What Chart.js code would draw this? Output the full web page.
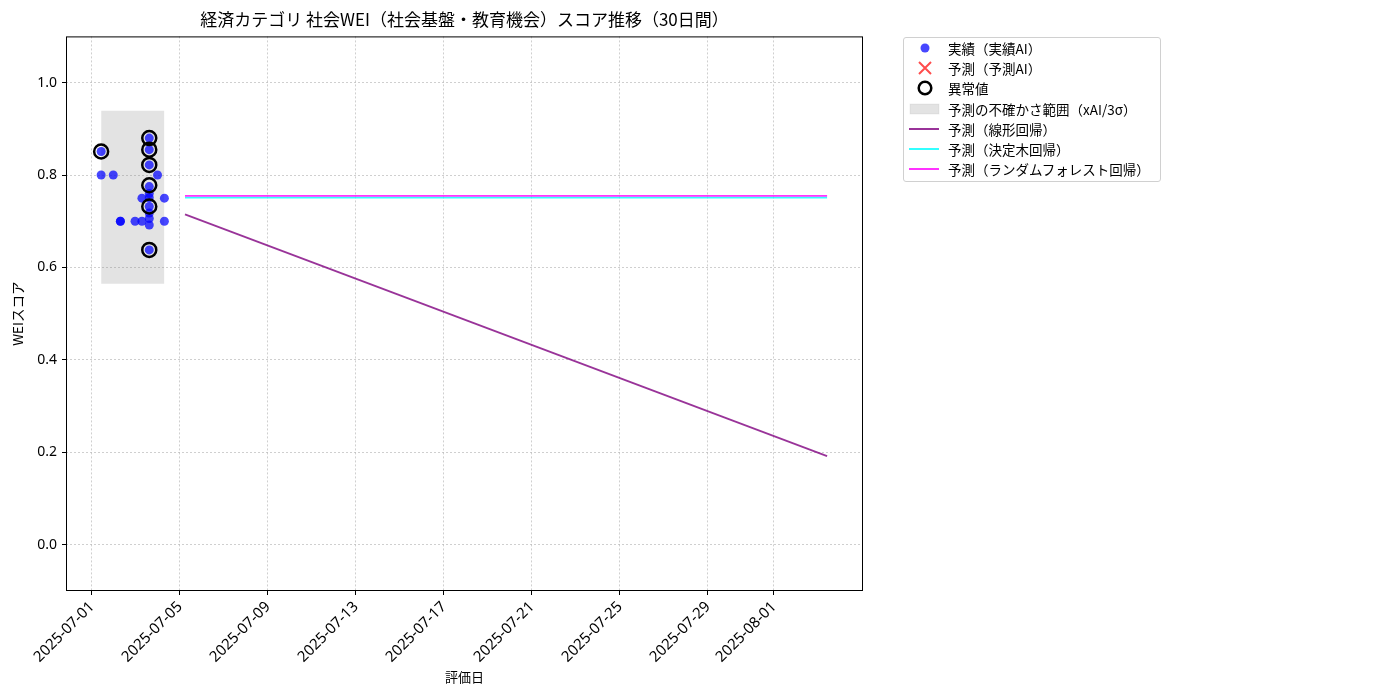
<!DOCTYPE html>
<html lang="ja">
<head>
<meta charset="utf-8">
<script src="https://cdn.jsdelivr.net/npm/chart.js@4.4.1/dist/chart.umd.min.js"></script>
<style>
  html, body { margin: 0; padding: 0; background: #fff; }
  #wrap { position: relative; width: 1400px; height: 700px; }
  #legend {
    position: absolute; left: 903px; top: 37px; width: 256px; height: 143px;
    border: 1px solid #d0d0d0; border-radius: 3px; background: #fff;
    font: 13.5px "Noto Sans CJK JP", sans-serif; color: #000;
  }
  .row { position: absolute; left: 0; height: 20px; width: 100%; }
  .row svg { position: absolute; left: 2px; top: 0; }
  .row span { position: absolute; left: 44px; top: 0; line-height: 20px; white-space: nowrap; }
</style>
</head>
<body>
<div id="wrap">
  <canvas id="chart" width="1400" height="700"></canvas>
  <div id="legend"></div>
</div>
<script>
// actual (実績AI) scores
const actualDates = [
  "2025-07-01T10:00", "2025-07-01T10:00", "2025-07-01T23:15",
  "2025-07-02T07:00", "2025-07-02T07:00", "2025-07-02T23:00",
  "2025-07-03T06:30", "2025-07-03T06:30",
  "2025-07-03T14:30", "2025-07-03T14:30", "2025-07-03T14:30", "2025-07-03T14:30",
  "2025-07-03T14:30", "2025-07-03T14:30", "2025-07-03T14:30", "2025-07-03T14:30",
  "2025-07-03T14:30", "2025-07-03T14:30", "2025-07-03T14:30",
  "2025-07-03T23:30", "2025-07-04T07:00", "2025-07-04T07:00"
];
const actualScores = [
  0.851, 0.800, 0.800,
  0.700, 0.700, 0.700,
  0.750, 0.700,
  0.880, 0.855, 0.822, 0.775,
  0.760, 0.751, 0.732, 0.718,
  0.706, 0.692, 0.638,
  0.800, 0.750, 0.700
];

// anomalies (異常値)
const anomalyDates = [
  "2025-07-01T10:00", "2025-07-03T14:30", "2025-07-03T14:30", "2025-07-03T14:30",
  "2025-07-03T14:30", "2025-07-03T14:30", "2025-07-03T14:30"
];
const anomalyScores = [0.851, 0.880, 0.855, 0.822, 0.778, 0.732, 0.638];

// uncertainty band (予測の不確かさ範囲)
const bandDates = ["2025-07-01T10:00", "2025-07-04T07:00"];
const bandUpper = [0.939, 0.939];
const bandLower = [0.565, 0.565];

// forecasts
const forecastDates = ["2025-07-05T05:30", "2025-08-03T10:00"];
const linearScores = [0.715, 0.192];
const treeScores = [0.751, 0.751];
const forestScores = [0.755, 0.755];

const xTickDates = ["2025-07-01", "2025-07-05", "2025-07-09", "2025-07-13", "2025-07-17",
  "2025-07-21", "2025-07-25", "2025-07-29", "2025-08-01"];
const yTicks = [0.0, 0.2, 0.4, 0.6, 0.8, 1.0];
const xMin = "2025-06-29T19:40";
const xMax = "2025-08-05T01:10";

const FONT = '"Noto Sans CJK JP", sans-serif';
const TICK_FONT = '"Noto Sans", "Noto Sans CJK JP", sans-serif';
const toMs = s => Date.parse(s + "Z");
const pts = (dates, vals) => dates.map((d, i) => ({ x: toMs(d), y: vals[i] }));

const colors = {
  actual: "rgba(0,0,255,0.72)",
  predicted: "rgba(255,0,0,0.7)",
  band: "rgba(128,128,128,0.22)",
  linear: "rgba(128,0,128,0.8)",
  tree: "rgba(0,255,255,0.8)",
  forest: "rgba(255,0,255,0.8)"
};

Chart.defaults.font.family = FONT;
Chart.defaults.color = "#000";

const frame = {
  id: "frame",
  afterDatasetsDraw(chart) {
    const { ctx, chartArea: a } = chart;
    ctx.save();
    ctx.strokeStyle = "#000";
    ctx.lineWidth = 1;
    ctx.strokeRect(a.left + 0.5, a.top + 0.5, a.right - a.left - 1, a.bottom - a.top - 1);
    ctx.restore();
  }
};

const gridOpts = { color: "rgba(170,170,170,0.7)", lineWidth: 0.8, tickColor: "#000", tickLength: 4, tickWidth: 1, tickBorderDash: [] };

new Chart(document.getElementById("chart"), {
  type: "scatter",
  data: {
    datasets: [
      { label: "異常値", data: pts(anomalyDates, anomalyScores), order: 0,
        pointRadius: 7, pointHoverRadius: 7, borderWidth: 2.5, borderColor: "#000", backgroundColor: "rgba(0,0,0,0)" },
      { label: "実績（実績AI）", data: pts(actualDates, actualScores), order: 1,
        pointRadius: 4.5, borderWidth: 0, backgroundColor: colors.actual },
      { label: "予測（予測AI）", data: [], order: 2, pointStyle: "crossRot", borderColor: colors.predicted },
      { label: "予測（線形回帰）", type: "line", data: pts(forecastDates, linearScores), order: 3,
        showLine: true, pointRadius: 0, borderWidth: 1.8, borderColor: colors.linear, fill: false },
      { label: "予測（決定木回帰）", type: "line", data: pts(forecastDates, treeScores), order: 4,
        showLine: true, pointRadius: 0, borderWidth: 1.8, borderColor: colors.tree, fill: false },
      { label: "予測（ランダムフォレスト回帰）", type: "line", data: pts(forecastDates, forestScores), order: 3.5,
        showLine: true, pointRadius: 0, borderWidth: 1.8, borderColor: colors.forest, fill: false },
      { label: "予測の不確かさ範囲（xAI/3σ）", type: "line", data: pts(bandDates, bandUpper), order: 6,
        showLine: true, pointRadius: 0, borderWidth: 0, borderColor: "rgba(0,0,0,0)",
        backgroundColor: colors.band, fill: "+1" },
      { label: "band lower", type: "line", data: pts(bandDates, bandLower), order: 7,
        showLine: true, pointRadius: 0, borderWidth: 0, borderColor: "rgba(0,0,0,0)", fill: false }
    ]
  },
  options: {
    responsive: false,
    animation: false,
    devicePixelRatio: 1,
    layout: { padding: { right: 537 } },
    plugins: {
      legend: { display: false },
      tooltip: { enabled: false },
      title: {
        display: true, fullSize: false,
        text: "経済カテゴリ 社会WEI（社会基盤・教育機会）スコア推移（30日間）",
        font: { size: 17, weight: "normal" }, color: "#000",
        padding: { top: 9, bottom: 7 }
      }
    },
    scales: {
      x: {
        type: "linear",
        min: toMs(xMin), max: toMs(xMax),
        afterBuildTicks: scale => { scale.ticks = xTickDates.map(d => ({ value: Date.parse(d) })); },
        afterFit: scale => { scale.height = 109; },
        ticks: {
          autoSkip: false, minRotation: 45, maxRotation: 45, padding: 3,
          font: { size: 15, family: TICK_FONT }, color: "#000",
          callback: v => new Date(v).toISOString().slice(0, 10)
        },
        grid: gridOpts,
        border: { display: false, dash: [2, 2] },
        title: { display: true, text: "評価日", font: { size: 13 }, color: "#000", padding: { top: 0, bottom: 15 } }
      },
      y: {
        min: -0.1, max: 1.1,
        afterBuildTicks: scale => { scale.ticks = yTicks.map(v => ({ value: v })); },
        afterFit: scale => { scale.width = 66; },
        ticks: { font: { size: 14, family: TICK_FONT }, color: "#000", padding: 5, callback: v => v.toFixed(1) },
        grid: gridOpts,
        border: { display: false, dash: [2, 2] },
        title: { display: true, text: "WEIスコア", font: { size: 13.5 }, color: "#000", padding: { top: 10, bottom: 0 } }
      }
    }
  },
  plugins: [frame]
});

// legend as html, markers drawn as small svgs
const legendItems = [
  { label: "実績（実績AI）", svg: `<circle cx="19" cy="10" r="4.5" fill="${colors.actual}"/>` },
  { label: "予測（予測AI）", svg: `<path d="M13 4 L25 16 M25 4 L13 16" stroke="${colors.predicted}" stroke-width="2"/>` },
  { label: "異常値", svg: `<circle cx="19" cy="10" r="6.3" fill="none" stroke="#000" stroke-width="2.5"/>` },
  { label: "予測の不確かさ範囲（xAI/3σ）", svg: `<rect x="4" y="5" width="29" height="10" fill="${colors.band}" stroke="rgba(128,128,128,0.1)"/>` },
  { label: "予測（線形回帰）", svg: `<line x1="3" y1="10" x2="33" y2="10" stroke="${colors.linear}" stroke-width="2"/>` },
  { label: "予測（決定木回帰）", svg: `<line x1="3" y1="10" x2="33" y2="10" stroke="${colors.tree}" stroke-width="2"/>` },
  { label: "予測（ランダムフォレスト回帰）", svg: `<line x1="3" y1="10" x2="33" y2="10" stroke="${colors.forest}" stroke-width="2"/>` }
];
const rowTops = [0, 20, 40, 61, 81, 101, 121];
document.getElementById("legend").innerHTML = legendItems.map((item, i) =>
  `<div class="row" style="top:${rowTops[i]}px"><svg width="38" height="20">${item.svg}</svg><span>${item.label}</span></div>`
).join("");
</script>
</body>
</html>
